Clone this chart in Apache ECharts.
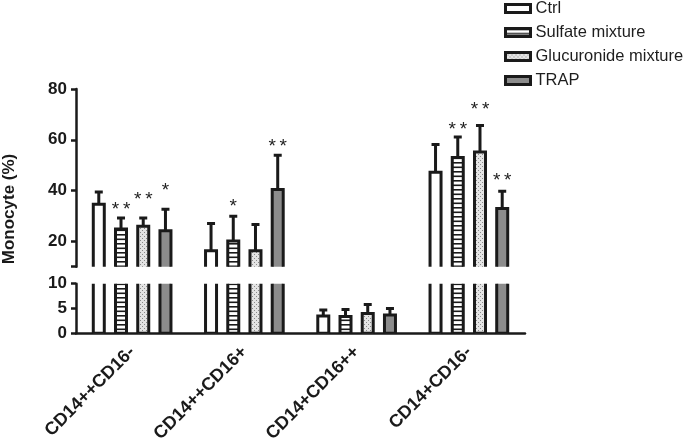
<!DOCTYPE html>
<html><head><meta charset="utf-8">
<script src="https://cdn.jsdelivr.net/npm/echarts@6/dist/echarts.min.js"></script>
<style>html,body{margin:0;padding:0;background:#fff}#chart{width:685px;height:438px}</style>
</head><body><div id="chart"></div>
<script>
const categories = ['CD14++CD16-', 'CD14++CD16+', 'CD14+CD16++', 'CD14+CD16-'];
const groupNames = ['Ctrl', 'Sulfate mixture', 'Glucuronide mixture', 'TRAP'];
const ctrlMean = [34.6, 16.3, 3.5, 47.2];
const ctrlErr = [4.8, 10.7, 1.2, 10.9];
const ctrlSig = ['', '', '', ''];
const ctrlSigY = [null, null, null, null];
const sulfateMean = [24.9, 20.1, 3.4, 53.0];
const sulfateErr = [4.3, 9.8, 1.4, 8.1];
const sulfateSig = ['**', '*', '', '**'];
const sulfateSigY = [34.3, 35.6, null, 66.0];
const glucMean = [25.9, 16.3, 4.0, 55.2];
const glucErr = [3.3, 10.3, 1.8, 10.4];
const glucSig = ['**', '', '', '**'];
const glucSigY = [38.2, null, null, 73.9];
const trapMean = [24.2, 40.4, 3.7, 32.9];
const trapErr = [8.4, 13.5, 1.3, 6.8];
const trapSig = ['*', '**', '', '**'];
const trapSigY = [41.7, 59.4, null, 45.8];
const upperTicks = [10, 20, 40, 60, 80];
const upperLabels = [20, 40, 60, 80];
const yTitle = 'Monocyte (%)';

const INK = '#1a1a1a';
const FONT = '"Liberation Sans", Arial, Helvetica, sans-serif';

function stripePattern() {
  const c = document.createElement('canvas');
  c.width = 4; c.height = 9;
  const ctx = c.getContext('2d');
  ctx.fillStyle = '#fff'; ctx.fillRect(0, 0, 4, 9);
  ctx.fillStyle = INK;
  ctx.fillRect(0, 0, 4, 1.6);
  ctx.fillRect(0, 4.5, 4, 1.6);
  return { image: c, repeat: 'repeat' };
}
function dotPattern() {
  const c = document.createElement('canvas');
  c.width = 4; c.height = 4;
  const ctx = c.getContext('2d');
  ctx.fillStyle = '#e4e4e4'; ctx.fillRect(0, 0, 4, 4);
  ctx.fillStyle = '#8a8a8a';
  ctx.fillRect(0, 0, 1, 1);
  ctx.fillRect(2, 2, 1, 1);
  return { image: c, repeat: 'repeat' };
}

const groups = [
  { mean: ctrlMean, err: ctrlErr, sig: ctrlSig, sigY: ctrlSigY, fill: '#ffffff' },
  { mean: sulfateMean, err: sulfateErr, sig: sulfateSig, sigY: sulfateSigY, fill: stripePattern() },
  { mean: glucMean, err: glucErr, sig: glucSig, sigY: glucSigY, fill: dotPattern() },
  { mean: trapMean, err: trapErr, sig: trapSig, sigY: trapSigY, fill: '#8c8c8c' }
];
const gridRanges = [[10, 80], [0, 10]];

function makeRender(k, g, range) {
  return function (params, api) {
    const idx = api.value(0), mean = api.value(1), err = api.value(2);
    const band = api.size([1, 0])[0];
    const step = band * 0.198;
    const w = band * 0.098;
    const top = api.coord([idx, mean]);
    const cx = top[0] + (k - 1.5) * step;
    const yTop = top[1];
    const yBase = api.coord([idx, 0])[1];
    const yErr = api.coord([idx, mean + err])[1];
    const children = [
      { type: 'rect', shape: { x: cx - w / 2, y: yTop, width: w, height: yBase - yTop },
        style: { fill: g.fill, stroke: INK, lineWidth: 3 } },
      { type: 'line', shape: { x1: cx, y1: yTop, x2: cx, y2: yErr },
        style: { stroke: INK, lineWidth: 3 } },
      { type: 'line', shape: { x1: cx - 4, y1: yErr, x2: cx + 4, y2: yErr },
        style: { stroke: INK, lineWidth: 3 } }
    ];
    const s = g.sig[params.dataIndex];
    const sy = g.sigY[params.dataIndex];
    if (s && sy != null && sy > range[0] && sy <= range[1]) {
      children.push({ type: 'text', x: cx, y: api.coord([idx, sy])[1] + 5,
        style: { text: s.split('').join('\u2009'), fill: '#222', fontSize: 19, fontFamily: FONT,
                 align: 'center', verticalAlign: 'middle' } });
    }
    return { type: 'group', children };
  };
}

const series = [];
groups.forEach((g, k) => {
  [0, 1].forEach(gi => {
    series.push({
      type: 'custom', name: groupNames[k], xAxisIndex: gi, yAxisIndex: gi, clip: true, silent: true,
      itemStyle: { color: g.fill, borderColor: INK, borderWidth: 3 },
      encode: { x: 0, y: 1 },
      data: categories.map((c, i) => [i, g.mean[i], g.err[i]]),
      renderItem: makeRender(k, g, gridRanges[gi])
    });
  });
});

const axisLineStyle = { color: INK, width: 2.5 };
const tickLabel = { color: INK, fontSize: 17, fontWeight: 'bold', fontFamily: FONT, margin: 9 };

const option = {
  animation: false,
  backgroundColor: '#fff',
  legend: {
    orient: 'vertical', left: 504, top: 0, padding: 0,
    itemWidth: 25, itemHeight: 8, itemGap: 7, selectedMode: false,
    textStyle: { fontSize: 16.5, color: '#1e1e1e', fontFamily: FONT },
    data: groupNames.map((n, k) => ({ name: n, icon: 'rect',
      itemStyle: { color: groups[k].fill, borderColor: INK, borderWidth: 3 } }))
  },
  grid: [
    { left: 76, top: 89, width: 449, height: 177.7, containLabel: false, outerBoundsMode: 'none' },
    { left: 76, top: 283.7, width: 449, height: 49.6, containLabel: false, outerBoundsMode: 'none' }
  ],
  xAxis: [
    { type: 'category', gridIndex: 0, data: categories, show: false },
    { type: 'category', gridIndex: 1, data: categories,
      axisLine: { lineStyle: axisLineStyle },
      axisTick: { alignWithLabel: true, length: 5, lineStyle: { color: INK, width: 2 } },
      axisLabel: { rotate: 45, interval: 0, color: INK, fontSize: 18, fontWeight: 'bold', fontFamily: FONT, margin: 16 } }
  ],
  yAxis: [
    { type: 'value', gridIndex: 0, min: 10, max: 80, splitLine: { show: false },
      axisLine: { show: true, lineStyle: axisLineStyle },
      axisTick: { show: true, length: 5, customValues: upperTicks, lineStyle: { color: INK, width: 2.5 } },
      axisLabel: Object.assign({ customValues: upperLabels }, tickLabel) },
    { type: 'value', gridIndex: 1, min: 0, max: 10, interval: 5, splitLine: { show: false },
      axisLine: { show: true, lineStyle: axisLineStyle },
      axisTick: { show: true, length: 5, lineStyle: { color: INK, width: 2.5 } },
      axisLabel: tickLabel }
  ],
  graphic: [
    { type: 'text', x: 9, y: 209, rotation: Math.PI / 2,
      style: { text: yTitle, fill: INK, fontSize: 17, fontWeight: 'bold', fontFamily: FONT,
               align: 'center', verticalAlign: 'middle' } }
  ],
  series
};
const chart = echarts.init(document.getElementById('chart'), null, { renderer: 'canvas' });
chart.setOption(option);
</script></body></html>
